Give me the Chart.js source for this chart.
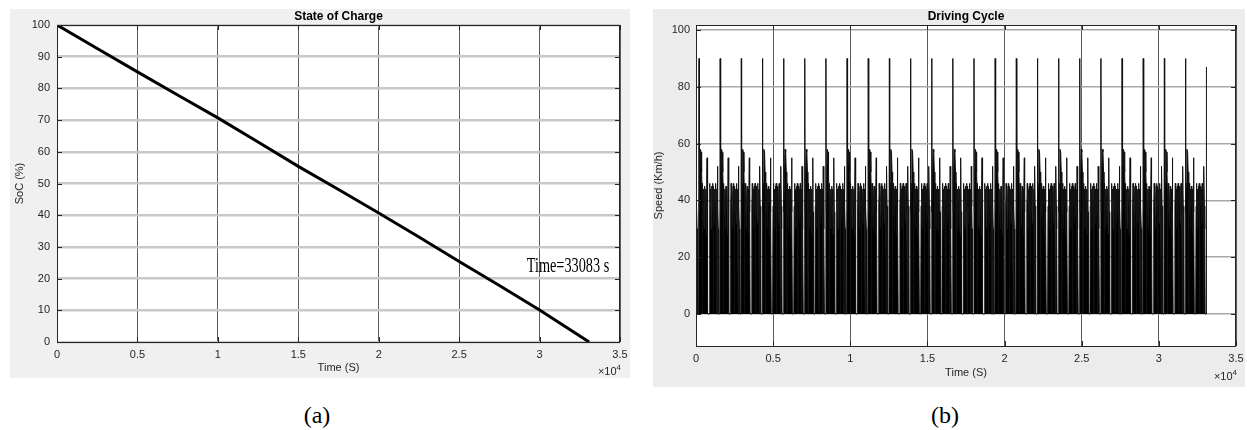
<!DOCTYPE html>
<html>
<head>
<meta charset="utf-8">
<script src="https://cdn.jsdelivr.net/npm/chart.js@4.4.1/dist/chart.umd.min.js"></script>
<style>
  body { margin: 0; background: #fff; width: 1247px; height: 430px; position: relative; overflow: hidden; }
  .panel { position: absolute; background: #f0f0f0; }
  #panel-a { left: 10px; top: 9px; width: 620px; height: 369px; }
  #panel-b { left: 653px; top: 9px; width: 592px; height: 378px; background: #ececec; }
  .caption { position: absolute; top: 401px; line-height: 28px; font-family: "Liberation Serif", "Times New Roman", serif; font-size: 24px; color: #000; transform: translateX(-50%); }
</style>
</head>
<body>
<div class="panel" id="panel-a"><canvas id="socChart" width="620" height="369"></canvas></div>
<div class="panel" id="panel-b"><canvas id="cycleChart" width="592" height="378"></canvas></div>
<div class="caption" style="left:317px">(a)</div>
<div class="caption" style="left:945px">(b)</div>

<script>
// Shared x axis (time in seconds, labelled in units of 10^4)
const xTickValues = [0, 5000, 10000, 15000, 20000, 25000, 30000, 35000];
const xTickLabels = ['0', '0.5', '1', '1.5', '2', '2.5', '3', '3.5'];

// (a) State of charge
const socTime = [0, 2500, 5000, 7500, 10000, 12500, 15000, 17500, 20000, 22500, 25000, 27500, 30000, 33083];
const socValue = [100, 92.6, 85.2, 77.9, 70.7, 63.1, 55.4, 48.1, 40.7, 33.1, 25.4, 17.8, 10.1, 0];
const socTicks = [0, 10, 20, 30, 40, 50, 60, 70, 80, 90, 100];

// (b) Driving cycle: one cycle, repeated until the battery is empty
const cycleTime = [0, 20, 45, 70, 95, 170, 195, 215, 240, 285, 330, 365, 395, 405, 415, 440, 465, 495, 520, 545,
  575, 605, 635, 660, 690, 715, 735, 765, 855, 880, 905, 930, 955, 985, 1010, 1035, 1060, 1085, 1110, 1118,
  1126, 1150, 1175, 1200, 1225, 1250, 1275, 1300, 1330, 1360];
const cycleSpeed = [0, 52, 38, 30, 0, 0, 90, 36, 46, 58, 57, 50, 42, 0, 40, 46, 35, 44, 30, 42,
  45, 38, 44, 28, 40, 55, 36, 0, 0, 38, 46, 40, 44, 30, 42, 45, 36, 46, 38, 0,
  40, 45, 38, 44, 32, 42, 46, 35, 44, 0];
const cyclePeriod = 1371;
const endTime = 33083;
const endSpeed = 87;
const speedTicks = [0, 20, 40, 60, 80, 100];

const fontFamily = '"Liberation Sans", Arial, Helvetica, sans-serif';
Chart.defaults.font.family = fontFamily;
Chart.defaults.color = '#262626';

// Build the repeated driving cycle series
function buildCycleData() {
  const data = [];
  for (let start = 0; start < endTime; start += cyclePeriod) {
    cycleTime.forEach((t, i) => {
      if (start + t < endTime) data.push({ x: start + t, y: cycleSpeed[i] });
    });
  }
  data.push({ x: endTime, y: endSpeed });
  return data;
}

// White axes background, box, inner ticks, title, x10^4 and annotation
const panelDecor = {
  id: 'panelDecor',
  beforeDraw(chart) {
    const { ctx, chartArea: a } = chart;
    ctx.save();
    ctx.fillStyle = '#fff';
    ctx.fillRect(a.left, a.top, a.right - a.left, a.bottom - a.top);
    ctx.restore();
  },
  afterDraw(chart, args, opts) {
    const { ctx, chartArea: a, scales } = chart;
    ctx.save();
    ctx.strokeStyle = '#262626';
    ctx.lineWidth = 1;
    ctx.beginPath();
    scales.y.ticks.forEach(t => {
      const py = Math.round(scales.y.getPixelForValue(t.value)) + 0.5;
      ctx.moveTo(a.left, py); ctx.lineTo(a.left + 5, py);
      ctx.moveTo(a.right - 5, py); ctx.lineTo(a.right, py);
    });
    scales.x.ticks.forEach(t => {
      const px = Math.round(scales.x.getPixelForValue(t.value)) + 0.5;
      ctx.moveTo(px, a.bottom); ctx.lineTo(px, a.bottom - 5);
      ctx.moveTo(px, a.top); ctx.lineTo(px, a.top + 5);
    });
    ctx.stroke();
    ctx.strokeRect(Math.round(a.left) + 0.5, Math.round(a.top) + 0.5,
      Math.round(a.right - a.left) - 1, Math.round(a.bottom - a.top));

    // title
    ctx.fillStyle = '#000';
    ctx.font = 'bold 12px ' + fontFamily;
    ctx.textAlign = 'center';
    ctx.textBaseline = 'middle';
    ctx.fillText(opts.title, (a.left + a.right) / 2, 8);

    // x10^4 exponent
    ctx.fillStyle = '#262626';
    ctx.textBaseline = 'alphabetic';
    ctx.textAlign = 'right';
    ctx.font = '8px ' + fontFamily;
    const wExp = ctx.measureText('4').width;
    const baseY = a.bottom + opts.expOffset;
    ctx.fillText('4', a.right + 1, baseY - 5);
    ctx.font = '11px ' + fontFamily;
    ctx.fillText('\u00d710', a.right + 1 - wExp, baseY);

    // annotation
    if (opts.note) {
      const px = scales.x.getPixelForValue(opts.note.x);
      const py = scales.y.getPixelForValue(opts.note.y);
      ctx.translate(px, py);
      ctx.scale(0.68, 1);
      ctx.fillStyle = '#000';
      ctx.font = '21px "Liberation Serif", "Times New Roman", serif';
      ctx.textAlign = 'left';
      ctx.textBaseline = 'middle';
      ctx.fillText(opts.note.text, 0, 0);
    }
    ctx.restore();
  }
};

function xScale(height, labelPad, titlePad) {
  return {
    type: 'linear',
    min: 0,
    max: 35000,
    afterBuildTicks: axis => { axis.ticks = xTickValues.map(v => ({ value: v })); },
    afterFit: axis => {
      axis.height = height;
      // keep the end labels from shrinking the plot area
      axis.paddingLeft = 0;
      axis.paddingRight = 0;
    },
    ticks: {
      callback: v => xTickLabels[xTickValues.indexOf(v)],
      font: { size: 11 },
      padding: labelPad,
      maxRotation: 0,
      autoSkip: false
    },
    grid: { color: '#5a5a5a', lineWidth: 1, drawTicks: false },
    border: { display: false },
    title: { display: true, text: 'Time (S)', font: { size: 11, lineHeight: 1 }, padding: { top: 0, bottom: titlePad } }
  };
}

function yScale(min, max, tickValues, width, labelPad, title, titlePad, gridColor, gridWidth) {
  return {
    type: 'linear',
    min: min,
    max: max,
    afterBuildTicks: axis => { axis.ticks = tickValues.map(v => ({ value: v })); },
    afterFit: axis => {
      axis.width = width;
      axis.paddingTop = 0;
      axis.paddingBottom = 0;
    },
    ticks: { font: { size: 11 }, padding: labelPad },
    grid: { color: gridColor, lineWidth: gridWidth, drawTicks: false },
    border: { display: false },
    title: { display: true, text: title, font: { size: 11, lineHeight: 1 }, padding: { top: titlePad, bottom: 0 } }
  };
}

// (a) State of Charge
new Chart(document.getElementById('socChart'), {
  type: 'line',
  data: {
    datasets: [{
      data: socTime.map((t, i) => ({ x: t, y: socValue[i] })),
      borderColor: '#000',
      borderWidth: 3,
      pointRadius: 0,
      tension: 0
    }]
  },
  options: {
    responsive: false,
    animation: false,
    devicePixelRatio: 1,
    layout: { padding: { top: 16, right: 10, left: 0, bottom: 0 } },
    scales: {
      x: xScale(36, 6, 4.5),
      y: yScale(0, 100, socTicks, 47, 7, 'SoC (%)', 4.5, '#c8c8c8', 2.5)
    },
    plugins: {
      legend: { display: false },
      tooltip: { enabled: false },
      panelDecor: { title: 'State of Charge', expOffset: 33, note: { text: 'Time=33083 s', x: 29200, y: 23.7 } }
    }
  },
  plugins: [panelDecor]
});

// (b) Driving Cycle
new Chart(document.getElementById('cycleChart'), {
  type: 'line',
  data: {
    datasets: [{
      data: buildCycleData(),
      borderColor: '#111',
      borderWidth: 1,
      backgroundColor: '#000',
      fill: 'origin',
      pointRadius: 0,
      tension: 0
    }]
  },
  options: {
    responsive: false,
    animation: false,
    devicePixelRatio: 1,
    layout: { padding: { top: 16, right: 9, left: 0, bottom: 0 } },
    scales: {
      x: xScale(41, 6, 8.5),
      y: yScale(-11.3, 101.8, speedTicks, 43, 6, 'Speed (Km/h)', 0, '#a8a8a8', 1.5)
    },
    plugins: {
      legend: { display: false },
      tooltip: { enabled: false },
      panelDecor: { title: 'Driving Cycle', expOffset: 34 }
    }
  },
  plugins: [panelDecor]
});
</script>
</body>
</html>
